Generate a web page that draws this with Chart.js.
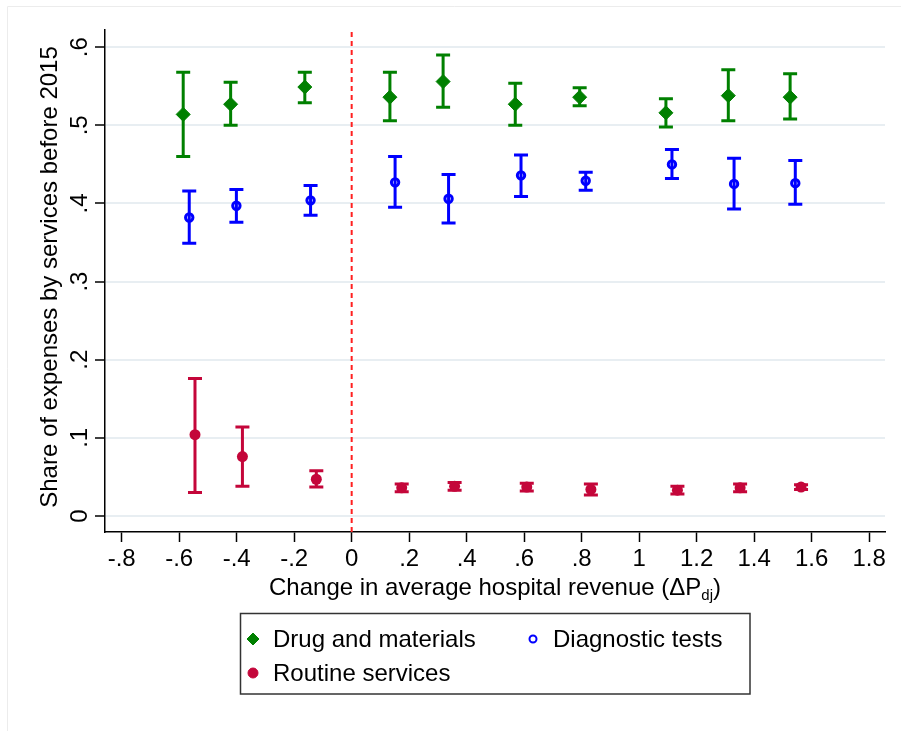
<!DOCTYPE html>
<html>
<head>
<meta charset="utf-8">
<script src="https://cdn.jsdelivr.net/npm/chart.js@4/dist/chart.umd.min.js"></script>
<style>
  html, body { margin: 0; padding: 0; background: #fff; }
  #wrap { width: 901px; height: 731px; position: relative; }
</style>
</head>
<body>
<div id="wrap"><canvas id="c" width="901" height="731"></canvas></div>
<script>
// Binned change in average hospital revenue (x) and expense shares with 95% CIs
const xDrug  = [-0.586, -0.421, -0.163, 0.133, 0.318, 0.569, 0.793, 1.093, 1.310, 1.525];
const yDrug  = [0.514, 0.527, 0.549, 0.536, 0.556, 0.527, 0.536, 0.516, 0.538, 0.536];
const loDrug = [0.460, 0.500, 0.529, 0.506, 0.523, 0.500, 0.525, 0.498, 0.506, 0.508];
const hiDrug = [0.568, 0.555, 0.568, 0.568, 0.590, 0.554, 0.548, 0.534, 0.571, 0.566];

const xDiag  = [-0.565, -0.401, -0.143, 0.151, 0.337, 0.589, 0.814, 1.114, 1.330, 1.543];
const yDiag  = [0.382, 0.397, 0.404, 0.427, 0.406, 0.436, 0.429, 0.450, 0.425, 0.426];
const loDiag = [0.349, 0.376, 0.385, 0.395, 0.375, 0.409, 0.417, 0.432, 0.393, 0.399];
const hiDiag = [0.416, 0.418, 0.423, 0.460, 0.437, 0.462, 0.440, 0.469, 0.458, 0.455];

const xRout  = [-0.545, -0.380, -0.123, 0.174, 0.358, 0.609, 0.832, 1.133, 1.351, 1.563];
const yRout  = [0.104, 0.076, 0.047, 0.036, 0.038, 0.037, 0.034, 0.033, 0.036, 0.037];
const loRout = [0.030, 0.038, 0.037, 0.031, 0.033, 0.032, 0.027, 0.028, 0.031, 0.034];
const hiRout = [0.176, 0.114, 0.058, 0.041, 0.043, 0.042, 0.041, 0.038, 0.041, 0.040];

const seriesNames = ['Drug and materials', 'Diagnostic tests', 'Routine services'];
const xTicks = [-0.8, -0.6, -0.4, -0.2, 0, 0.2, 0.4, 0.6, 0.8, 1, 1.2, 1.4, 1.6, 1.8];
const yTicks = [0, 0.1, 0.2, 0.3, 0.4, 0.5, 0.6];
const cutoff = [0];   // vertical reference line position
const xTitle = 'Change in average hospital revenue (\u0394P';
const xTitleSub = 'dj';
const yTitle = 'Share of expenses by services before 2015';

const X_MIN = -0.858, X_MAX = 1.855, Y_MIN = -0.0205, Y_MAX = 0.622;

const GREEN = '#008000';
const BLUE = '#0000ff';
const RED = '#c4063a';
const FONT = "'Liberation Sans', Arial, Helvetica, sans-serif";

// Stata-style number labels: drop the leading zero (".2", "-.8")
function stataNum(v) {
  const r = Math.round(v * 10) / 10;
  let s = String(r);
  s = s.replace(/^0\./, '.').replace(/^-0\./, '-.');
  return s;
}

function pts(xs, ys) { return xs.map((x, i) => ({ x: x, y: ys[i] })); }

// Draws the CI whiskers with caps beneath the markers
const errorBars = {
  id: 'errorBars',
  beforeDatasetsDraw(chart) {
    const { ctx, scales: { x, y } } = chart;
    ctx.save();
    chart.data.datasets.forEach((ds, di) => {
      if (!ds.errLo || !chart.isDatasetVisible(di)) return;
      ctx.strokeStyle = ds.errColor;
      ctx.lineWidth = 3;
      ctx.lineCap = 'butt';
      ds.data.forEach((p, i) => {
        const px = x.getPixelForValue(p.x);
        const pl = y.getPixelForValue(ds.errLo[i]);
        const ph = y.getPixelForValue(ds.errHi[i]);
        const cw = 7;
        ctx.beginPath();
        ctx.moveTo(px, ph); ctx.lineTo(px, pl);
        ctx.moveTo(px - cw, ph); ctx.lineTo(px + cw, ph);
        ctx.moveTo(px - cw, pl); ctx.lineTo(px + cw, pl);
        ctx.stroke();
      });
    });
    ctx.restore();
  }
};

// Axis titles (x title carries a subscript), boxed legend and faint frame
const decorations = {
  id: 'decorations',
  afterDraw(chart) {
    const { ctx, chartArea: ca } = chart;
    ctx.save();

    // faint outer frame
    ctx.strokeStyle = '#ececec';
    ctx.lineWidth = 1;
    ctx.beginPath();
    ctx.moveTo(7.5, 731); ctx.lineTo(7.5, 6.5); ctx.lineTo(901, 6.5);
    ctx.stroke();

    ctx.fillStyle = '#000';
    ctx.textBaseline = 'alphabetic';

    // x title
    ctx.font = '24px ' + FONT;
    const wMain = ctx.measureText(xTitle).width;
    ctx.font = '15px ' + FONT;
    const wSub = ctx.measureText(xTitleSub).width;
    ctx.font = '24px ' + FONT;
    const wClose = ctx.measureText(')').width;
    const total = wMain + wSub + wClose;
    let tx = (ca.left + ca.right) / 2 - total / 2;
    const base = 595;
    ctx.textAlign = 'left';
    ctx.fillText(xTitle, tx, base);
    tx += wMain;
    ctx.font = '15px ' + FONT;
    ctx.fillText(xTitleSub, tx, base + 5);
    tx += wSub;
    ctx.font = '24px ' + FONT;
    ctx.fillText(')', tx, base);

    // y title
    ctx.save();
    ctx.translate(50, (ca.top + ca.bottom) / 2 - 4);
    ctx.rotate(-Math.PI / 2);
    ctx.textAlign = 'center';
    ctx.textBaseline = 'middle';
    ctx.font = '24px ' + FONT;
    ctx.fillText(yTitle, 0, 0);
    ctx.restore();

    // legend box
    const bx = 240.5, by = 613.5, bw = 509.5, bh = 80.5;
    ctx.strokeStyle = '#333';
    ctx.lineWidth = 1.5;
    ctx.strokeRect(bx, by, bw, bh);

    const ds = chart.data.datasets;
    const entries = [
      { i: 0, mx: 253, my: 639, tx: 273 },
      { i: 1, mx: 533, my: 639, tx: 553 },
      { i: 2, mx: 253, my: 673, tx: 273 }
    ];
    entries.forEach(e => {
      const d = ds[e.i];
      ctx.save();
      ctx.fillStyle = d.backgroundColor;
      ctx.strokeStyle = d.borderColor;
      ctx.lineWidth = e.i === 1 ? 2 : 1;
      const r = e.i === 0 ? 6 : (e.i === 1 ? 3.5 : 5);
      Chart.helpers.drawPoint(ctx, { pointStyle: d.pointStyle, rotation: 0, borderWidth: ctx.lineWidth, radius: r }, e.mx, e.my);
      ctx.restore();
      ctx.fillStyle = '#000';
      ctx.font = '24px ' + FONT;
      ctx.textAlign = 'left';
      ctx.textBaseline = 'middle';
      ctx.fillText(d.label, e.tx, e.my + 1);
    });

    ctx.restore();
  }
};

Chart.defaults.font.family = FONT;
Chart.defaults.font.size = 24;
Chart.defaults.color = '#000';

new Chart(document.getElementById('c'), {
  type: 'scatter',
  data: {
    datasets: [
      {
        label: seriesNames[0],
        data: pts(xDrug, yDrug),
        errLo: loDrug, errHi: hiDrug, errColor: GREEN,
        pointStyle: 'rectRot', pointRadius: 7, pointBorderWidth: 1,
        backgroundColor: GREEN, borderColor: GREEN
      },
      {
        label: seriesNames[1],
        data: pts(xDiag, yDiag),
        errLo: loDiag, errHi: hiDiag, errColor: BLUE,
        pointStyle: 'circle', pointRadius: 3.7, pointBorderWidth: 3,
        backgroundColor: 'rgba(0,0,0,0)', borderColor: BLUE
      },
      {
        label: seriesNames[2],
        data: pts(xRout, yRout),
        errLo: loRout, errHi: hiRout, errColor: RED,
        pointStyle: 'circle', pointRadius: 5.5, pointBorderWidth: 0,
        backgroundColor: RED, borderColor: RED
      },
      {
        label: 'cutoff',
        type: 'line',
        data: [{ x: cutoff[0], y: Y_MIN }, { x: cutoff[0], y: Y_MAX }],
        showLine: true,
        borderColor: '#ff2020',
        borderWidth: 2,
        borderDash: [5, 4],
        pointRadius: 0,
        fill: false
      }
    ]
  },
  options: {
    responsive: false,
    animation: false,
    devicePixelRatio: 1,
    layout: { padding: { left: 0, top: 30, right: 16, bottom: 0 } },
    plugins: {
      legend: { display: false },
      tooltip: { enabled: false },
      title: { display: false }
    },
    scales: {
      x: {
        type: 'linear',
        min: X_MIN, max: X_MAX,
        afterBuildTicks(s) { s.ticks = xTicks.map(v => ({ value: v })); },
        afterFit(s) { s.height = 731 - 532; },
        ticks: {
          callback: v => stataNum(v),
          padding: 3,
          maxRotation: 0, minRotation: 0,
          autoSkip: false,
          font: { size: 24 }
        },
        grid: {
          drawOnChartArea: false,
          drawTicks: true,
          tickLength: 10,
          tickColor: '#000',
          tickWidth: 1.5
        },
        border: { display: true, color: '#000', width: 1.5 }
      },
      y: {
        type: 'linear',
        min: Y_MIN, max: Y_MAX,
        afterBuildTicks(s) { s.ticks = yTicks.map(v => ({ value: v })); },
        afterFit(s) { s.width = 105; },
        ticks: {
          callback: v => stataNum(v),
          minRotation: 90, maxRotation: 90,
          crossAlign: 'center',
          padding: 5,
          autoSkip: false,
          font: { size: 24 }
        },
        grid: {
          color: '#e8eef2',
          lineWidth: 2,
          drawTicks: true,
          tickLength: 10,
          tickColor: '#000',
          tickWidth: 1.5
        },
        border: { display: true, color: '#000', width: 1.5 }
      }
    }
  },
  plugins: [errorBars, decorations]
});
</script>
</body>
</html>
